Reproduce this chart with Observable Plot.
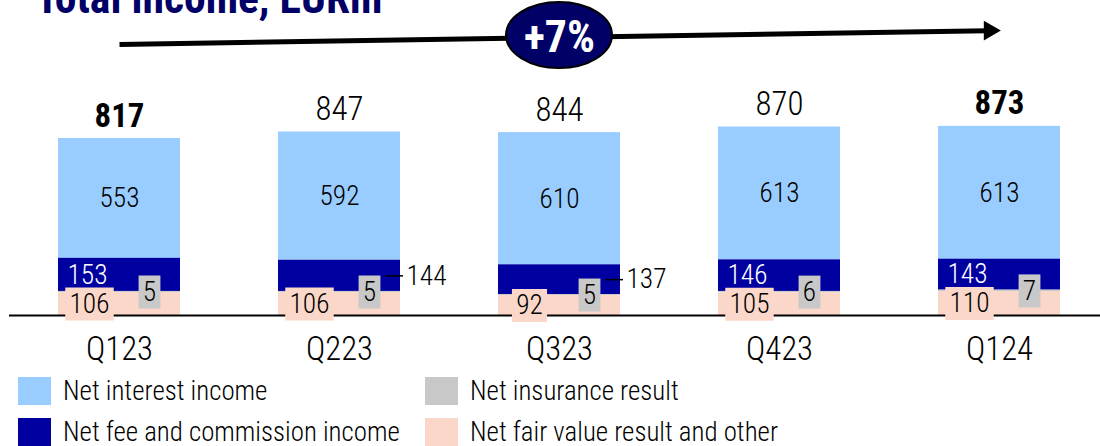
<!DOCTYPE html>
<html>
<head>
<meta charset="utf-8">
<script src="https://cdn.jsdelivr.net/npm/d3@7"></script>
<script src="https://cdn.jsdelivr.net/npm/@observablehq/plot@0.6"></script>
<style>
  html, body { margin: 0; padding: 0; background: #fff; }
  #wrap { position: relative; width: 1100px; height: 446px; overflow: hidden; }
  #chart { position: absolute; left: 0; top: 0; }
  .lg { position: absolute; display: flex; align-items: center; height: 28px;
        color: #000; white-space: nowrap; font-weight: 300; }
  .sw { width: 33px; height: 28px; margin-right: 12px; flex: none; }
</style>
</head>
<body>
<div id="wrap"><div id="chart"></div><div id="legend"></div></div>
<script>
// ---- data ----
const quarters = ["Q123", "Q223", "Q323", "Q423", "Q124"];
const netInterestIncome = [553, 592, 610, 613, 613];
const netFeeCommission = [153, 144, 137, 146, 143];
const netInsuranceResult = [5, 5, 5, 6, 7];
const netFairValueOther = [106, 106, 92, 105, 110];
const totalIncome = [817, 847, 844, 870, 873];
const seriesNames = ["Net interest income", "Net fee and commission income", "Net insurance result", "Net fair value result and other"];
const seriesColors = ["#99CCFF", "#0000A0", "#C8C8C8", "#FAD7C8"];
const boldTotals = ["Q123", "Q124"];
const feeLabelOutside = ["Q223", "Q323"];
const titleText = "Total income, EURm";

// ---- font selection: a condensed face if one is installed ----
const candidates = ["Roboto Condensed", "Liberation Sans Narrow", "DejaVu Sans Condensed", "Noto Sans"];
const cv = document.createElement("canvas").getContext("2d");
function available(f) {
  const s = "abcdefghijklmnopqrstuvwxyz0123456789";
  cv.font = "72px monospace"; const w0 = cv.measureText(s).width;
  cv.font = `72px '${f}', monospace`; const w1 = cv.measureText(s).width;
  return Math.abs(w0 - w1) > 0.5;
}
const fam = candidates.find(available) || "sans-serif";
const famCss = `'${fam}', sans-serif`;
function textW(text, size, weight) { cv.font = `${weight} ${size}px ${famCss}`; return cv.measureText(text).width; }
function fitSize(text, target, weight) { return 100 * target / textW(text, 100, weight); }

const fsLegend = fitSize("Net fee and commission income", 337, 300);
const fsAxis = fitSize("Q123", 67, 300);
const fsTotal = fitSize("847", 48, 300);
const fsInner = fitSize("553", 40, 300);
const fsSmall = fitSize("106", 40, 300);
const fsTitle = fitSize(titleText, 347, 700);
const fsGrowth = fitSize("+7%", 71, 700);

// ---- derived tables ----
const seriesValues = [netInterestIncome, netFeeCommission, netInsuranceResult, netFairValueOther];
const stackOrder = [seriesNames[3], seriesNames[2], seriesNames[1], seriesNames[0]];
const rows = quarters.flatMap((q, i) => seriesNames.map((s, j) => ({q, s, v: seriesValues[j][i]})));
const lab = quarters.map((q, i) => {
  const fv = netFairValueOther[i], ins = netInsuranceResult[i], fee = netFeeCommission[i], ni = netInterestIncome[i];
  return {
    q, total: totalIncome[i], bold: boldTotals.includes(q),
    fv, fvY: fv / 2,
    ins, insY: fv + ins / 2,
    fee, feeY: fv + ins + fee / 2, feeOut: feeLabelOutside.includes(q),
    ni, niY: fv + ins + fee + ni / 2
  };
});
const growth = "+" + Math.round((totalIncome[totalIncome.length - 1] / totalIncome[0] - 1) * 100) + "%";
const header = [{a: quarters[0], b: quarters[quarters.length - 1], mid: quarters[2], label: growth}];

const boxSymbol = (w, h) => ({draw(ctx) { ctx.rect(-w / 2, -h / 2, w, h); }});
const boxW = (v) => textW(String(v), fsSmall, 300) + 8.5;

const navy = "#000066";

const chart = Plot.plot({
  width: 1100,
  height: 372,
  marginTop: 0,
  marginBottom: 57,
  marginLeft: 9,
  marginRight: 0,
  style: {fontFamily: famCss, fontWeight: 300, background: "white", overflow: "visible"},
  x: {domain: quarters, range: [9, 1109], paddingInner: 0.445, paddingOuter: 0.2225, align: 0.5, label: null},
  y: {domain: [0, 1454], axis: null},
  color: {domain: seriesNames, range: seriesColors},
  marks: [
    Plot.barY(rows, {x: "q", y: "v", fill: "s", order: stackOrder}),
    Plot.ruleY([0], {stroke: "black", strokeWidth: 2}),
    // leader lines for outside fee labels
    Plot.tickY(lab.filter(d => d.feeOut), {x: "q", y: "feeY", insetLeft: 107, insetRight: -3, stroke: "black", strokeWidth: 1.5}),
    // label boxes
    Plot.dot(lab, {x: "q", y: "fvY", dx: -30, symbol: d => boxSymbol(boxW(d.fv), 33), fill: seriesColors[3], stroke: "none"}),
    Plot.dot(lab, {x: "q", y: "insY", dx: 30, symbol: d => boxSymbol(boxW(d.ins), 33), fill: seriesColors[2], stroke: "none"}),
    // segment labels
    Plot.text(lab, {x: "q", y: "niY", text: "ni", fontSize: fsInner, fill: "black"}),
    Plot.text(lab.filter(d => !d.feeOut), {x: "q", y: "feeY", text: "fee", fontSize: fsSmall, fill: "white", textAnchor: "start", dx: -52}),
    Plot.text(lab.filter(d => d.feeOut), {x: "q", y: "feeY", text: "fee", fontSize: fsSmall, fill: "black", textAnchor: "start", dx: 67}),
    Plot.text(lab, {x: "q", y: "fvY", text: "fv", fontSize: fsSmall, fill: "black", dx: -30}),
    Plot.text(lab, {x: "q", y: "insY", text: "ins", fontSize: fsSmall, fill: "black", dx: 30}),
    // totals
    Plot.text(lab.filter(d => !d.bold), {x: "q", y: "total", text: "total", fontSize: fsTotal, fill: "black", lineAnchor: "bottom", dy: -12}),
    Plot.text(lab.filter(d => d.bold), {x: "q", y: "total", text: "total", fontSize: fsTotal, fontWeight: 700, fill: "black", lineAnchor: "bottom", dy: -12}),
    // category axis
    Plot.axisX({tickSize: 0, tickPadding: 21, fontSize: fsAxis, fontWeight: 300, fill: "black"}),
    // growth arrow
    Plot.arrow(header, {x1: "a", y1: () => 1251, x2: "b", y2: () => 1315, stroke: "black", strokeWidth: 5, headLength: 0, insetEnd: 12, strokeLinecap: "butt"}),
    Plot.dot(header, {x: "b", y: () => 1315, symbol: "triangle", r: 7.3, rotate: 90, fill: "black", stroke: "none", dx: -10}),
    Plot.barY(header, {x: "mid", y1: () => 1140, y2: () => 1445, insetLeft: 8, insetRight: 8, rx: 53, ry: 33, fill: navy, stroke: "black", strokeWidth: 2}),
    Plot.text(header, {x: "mid", y: () => 1292, text: "label", fontSize: fsGrowth, fontWeight: 700, fill: "white", dy: 2}),
    // title (cut at the top edge as in the source)
    Plot.text([titleText], {frameAnchor: "top-left", text: d => d, dx: 26, dy: 12, lineAnchor: "bottom", textAnchor: "start", fontSize: fsTitle, fontWeight: 700, fill: navy})
  ]
});
document.getElementById("chart").appendChild(chart);

// ---- legend ----
const legendPos = [[18, 377], [18, 418], [425, 377], [425, 418]];
const legend = document.getElementById("legend");
seriesNames.forEach((name, i) => {
  const item = document.createElement("div");
  item.className = "lg";
  item.style.left = legendPos[i][0] + "px";
  item.style.top = legendPos[i][1] + "px";
  item.style.fontFamily = famCss;
  item.style.fontSize = fsLegend + "px";
  const sw = document.createElement("div");
  sw.className = "sw";
  sw.style.background = seriesColors[i];
  const tx = document.createElement("span");
  tx.textContent = name;
  item.appendChild(sw);
  item.appendChild(tx);
  legend.appendChild(item);
});
</script>
</body>
</html>
